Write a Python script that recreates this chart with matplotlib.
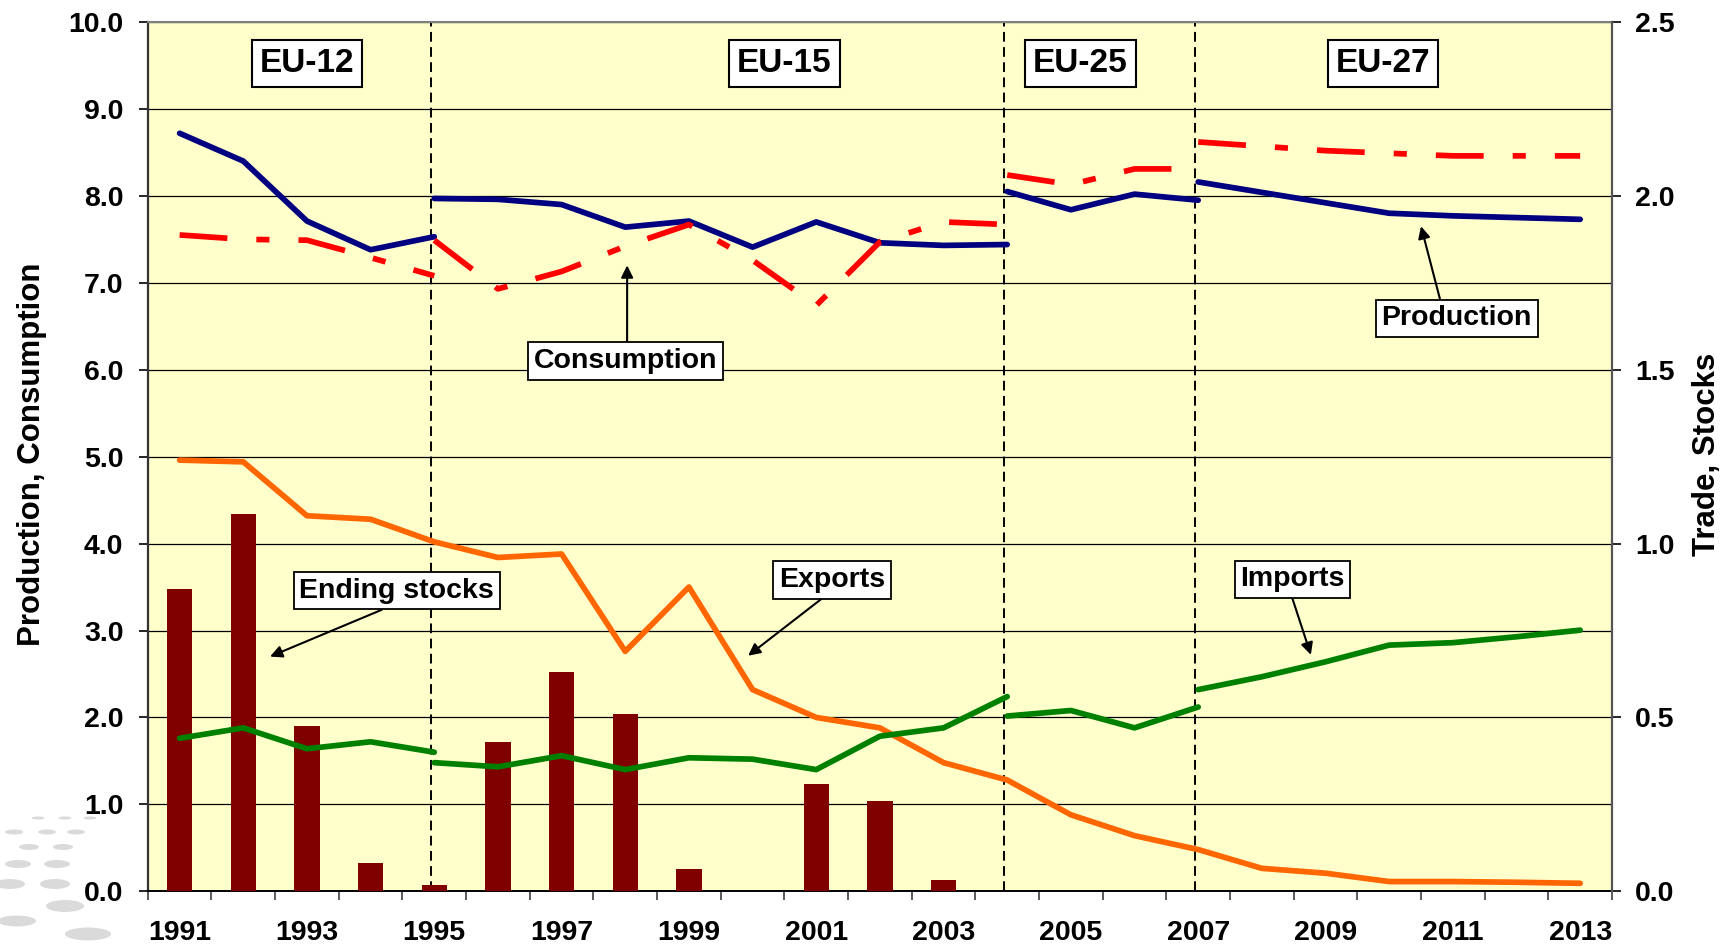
import matplotlib
matplotlib.use("Agg")
import matplotlib.pyplot as plt
import numpy as np
from matplotlib.patches import Ellipse

# ---------------- data ----------------
years = list(range(1991, 2014))
eu12_years = list(range(1991, 1996))
eu15_years = list(range(1995, 2005))
eu25_years = list(range(2004, 2008))
eu27_years = list(range(2007, 2014))

# left axis (Production, Consumption)
production_eu12 = [8.72, 8.40, 7.71, 7.38, 7.53]
production_eu15 = [7.97, 7.96, 7.90, 7.64, 7.71, 7.41, 7.70, 7.46, 7.43, 7.44]
production_eu25 = [8.05, 7.84, 8.02, 7.95]
production_eu27 = [8.16, 8.04, 7.92, 7.80, 7.77, 7.75, 7.73]

consumption_eu12 = [7.55, 7.50, 7.49, 7.29, 7.08]
consumption_eu15 = [7.49, 6.93, 7.13, 7.42, 7.67, 7.26, 6.74, 7.47, 7.70, 7.67]
consumption_eu25 = [8.24, 8.13, 8.31, 8.31]
consumption_eu27 = [8.62, 8.57, 8.52, 8.49, 8.46, 8.46, 8.46]

# right axis (Trade, Stocks)
exports = [1.24, 1.235, 1.08, 1.07, 1.005, 0.96, 0.97, 0.69, 0.875, 0.58, 0.50,
           0.47, 0.37, 0.32, 0.22, 0.16, 0.12, 0.066, 0.052, 0.028, 0.028, 0.026, 0.023]
imports_eu12 = [0.44, 0.47, 0.41, 0.43, 0.40]
imports_eu15 = [0.37, 0.358, 0.39, 0.35, 0.384, 0.38, 0.35, 0.446, 0.47, 0.56]
imports_eu25 = [0.504, 0.52, 0.47, 0.53]
imports_eu27 = [0.58, 0.617, 0.66, 0.708, 0.715, 0.732, 0.751]
ending_stocks = [0.87, 1.085, 0.475, 0.08, 0.017, 0.43, 0.63, 0.51, 0.064, 0.0,
                 0.31, 0.26, 0.033, 0, 0, 0, 0, 0, 0, 0, 0, 0, 0]

period_labels = ["EU-12", "EU-15", "EU-25", "EU-27"]
left_ticks = [0, 1, 2, 3, 4, 5, 6, 7, 8, 9, 10]
right_ticks = [0.0, 0.5, 1.0, 1.5, 2.0, 2.5]
year_labels = [str(y) for y in range(1991, 2014, 2)]

# ---------------- style ----------------
plt.rcParams["font.family"] = ["Liberation Sans", "DejaVu Sans"]
plt.rcParams["font.weight"] = "bold"

C_PROD = "#000080"
C_CONS = "#FF0000"
C_EXP = "#FF6600"
C_IMP = "#008000"
C_BAR = "#800000"
LW = 4.1

fig = plt.figure(figsize=(17.29, 9.44), dpi=100)
ax = fig.add_axes([0.08548, 0.05583, 0.84685, 0.92087])
ax.set_facecolor("#FFFFCC")
ax.set_xlim(1990.5, 2013.5)
ax.set_ylim(0, 10)
ax2 = ax.twinx()
ax2.set_ylim(0, 2.5)

# grid
ax.set_axisbelow(True)
ax.yaxis.grid(True, color="black", lw=0.9)
ax.xaxis.grid(False)

# period separators
for yr in [eu15_years[0], eu25_years[0], eu27_years[0]]:
    ax.axvline(yr - 0.05, color="black", lw=1.4, dashes=(5, 2.8), zorder=1.5)

# production / consumption (left axis)
for yrs, vals in [(eu12_years, production_eu12), (eu15_years, production_eu15),
                  (eu25_years, production_eu25), (eu27_years, production_eu27)]:
    ax.plot(yrs, vals, color=C_PROD, lw=LW, solid_capstyle="round",
            solid_joinstyle="round", zorder=3)
for yrs, vals in [(eu12_years, consumption_eu12), (eu15_years, consumption_eu15),
                  (eu25_years, consumption_eu25), (eu27_years, consumption_eu27)]:
    ax.plot(yrs, vals, color=C_CONS, lw=LW, dashes=(8.4, 5.1, 2.3, 5.1),
            dash_capstyle="butt", zorder=3)

# stocks / trade (right axis)
ax2.bar(years, ending_stocks, width=0.4, color=C_BAR, zorder=2)
ax2.plot(years, exports, color=C_EXP, lw=LW, solid_capstyle="round",
         solid_joinstyle="round", zorder=3)
for yrs, vals in [(eu12_years, imports_eu12), (eu15_years, imports_eu15),
                  (eu25_years, imports_eu25), (eu27_years, imports_eu27)]:
    ax2.plot(yrs, vals, color=C_IMP, lw=LW, solid_capstyle="round",
             solid_joinstyle="round", zorder=3)

# ticks
ax.set_yticks(left_ticks)
ax.set_yticklabels([f"{v:.1f}" for v in left_ticks])
ax2.set_yticks(right_ticks)
ax2.set_yticklabels([f"{v:.1f}" for v in right_ticks])
ax.tick_params(axis="y", length=6.5, width=1.2, pad=11, labelsize=20.5)
ax2.tick_params(axis="y", length=6.5, width=1.2, pad=10, labelsize=20.5)

ax.set_xticks(np.arange(1990.5, 2014.0, 1.0))
ax.set_xticklabels([])
ax.set_xticks(list(range(1991, 2014, 2)), minor=True)
ax.set_xticklabels(year_labels, minor=True)
ax.tick_params(axis="x", which="major", length=6.5, width=1.2, direction="out",
               color="#404040")
ax.tick_params(axis="x", which="minor", length=0, pad=21, labelsize=20.5)

# spines
ax.spines["top"].set_color("#808080")
ax.spines["top"].set_linewidth(1.5)
ax.spines["left"].set_color("#333333")
ax.spines["left"].set_linewidth(1.6)
ax.spines["bottom"].set_color("black")
ax.spines["bottom"].set_linewidth(1.4)
ax.spines["right"].set_visible(False)
for s in ["left", "top", "bottom"]:
    ax2.spines[s].set_visible(False)
ax2.spines["right"].set_color("#555555")
ax2.spines["right"].set_linewidth(1.6)

# axis titles
fig.text(0.0185, 0.519, "Production, Consumption", rotation=90, ha="center",
         va="center", fontsize=22.5, fontweight="bold")
fig.text(0.987, 0.519, "Trade, Stocks", rotation=90, ha="center",
         va="center", fontsize=22.5, fontweight="bold")

# period boxes
box = dict(boxstyle="square,pad=0.24", fc="white", ec="black", lw=1.5)
for lab, xpos in zip(period_labels, [1993.0, 2000.5, 2005.15, 2009.9]):
    ax2.text(xpos, 9.52, lab, transform=ax.transData, ha="center", va="center",
             fontsize=24, fontweight="bold", bbox=box, zorder=6)

# series annotations (positions in left-axis units)
abox = dict(boxstyle="square,pad=0.2", fc="white", ec="black", lw=1.3)
aprops = dict(arrowstyle="-|>", color="black", lw=1.5, mutation_scale=18,
              shrinkA=0, shrinkB=0)
annots = [
    ("Consumption", (1998.03, 7.2), (1998.0, 6.10), (0.51, 1.0)),
    ("Production", (2010.5, 7.65), (2011.06, 6.59), (0.40, 1.0)),
    ("Ending stocks", (1992.42, 2.70), (1994.41, 3.46), (0.5, 0.0)),
    ("Exports", (1999.93, 2.71), (2001.25, 3.58), (0.47, 0.0)),
    ("Imports", (2008.77, 2.72), (2008.48, 3.59), (0.48, 0.0)),
]
for txt, xy, xyt, rel in annots:
    ap = dict(aprops)
    ap["relpos"] = rel
    ax2.annotate(txt, xy=xy, xycoords=ax.transData, xytext=xyt,
                 textcoords=ax.transData, ha="center", va="center",
                 fontsize=20.5, fontweight="bold", bbox=abox, arrowprops=ap,
                 zorder=6)

# decorative grey dots in the lower-left corner (template background)
dots = [(38, 818, 13, 3), (65, 818, 13, 3), (90, 818, 13, 3),
        (14, 832, 18, 5), (47, 832, 18, 5), (76, 832, 18, 5),
        (29, 847, 20, 6), (63, 847, 20, 6),
        (18, 864, 26, 8), (57, 864, 26, 8),
        (10, 884, 30, 10), (55, 884, 30, 10),
        (65, 906, 38, 12), (17, 921, 38, 11), (88, 934, 46, 13)]
for cx, cy, w, h in dots:
    e = Ellipse((cx / 1729, 1 - cy / 944), w / 1729, h / 944,
                transform=fig.transFigure, fc="#D4D4D4", ec="none", alpha=0.85)
    fig.patches.append(e)

fig.savefig("out.png", dpi=100)
